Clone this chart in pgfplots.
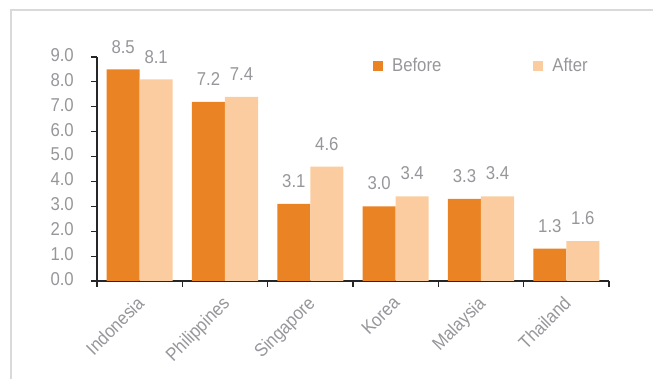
\documentclass[border=0pt]{standalone}
\usepackage{fontspec}
\setmainfont{Liberation Sans}[FakeStretch=0.9]
\usepackage{pgfplots}
\pgfplotsset{compat=1.18}
\definecolor{before}{RGB}{233,131,36}
\definecolor{after}{RGB}{251,204,160}
\definecolor{txt}{RGB}{150,150,155}
\definecolor{framec}{RGB}{217,217,217}
\newcommand{\lf}{\fontsize{18.6bp}{22bp}\selectfont}
\begin{document}
\begin{tikzpicture}
\useasboundingbox (0,0) rectangle (653bp,379bp);
\draw[framec, line width=1.5bp] (11bp,0) -- (11bp,369bp) -- (653bp,369bp);
\begin{axis}[
  at={(97bp,98bp)}, anchor=south west,
  width=512bp, height=224bp, scale only axis,
  xmin=-0.5, xmax=5.5, ymin=0, ymax=9,
  ybar=0pt, bar width=33bp,
  axis x line*=bottom, axis y line*=left,
  axis line style={black!85, line width=1.2bp},
  tick align=outside,
  major tick length=6bp, minor tick length=6bp,
  every tick/.style={black!85, line width=1.2bp},
  xtick={0,...,5},
  xticklabels={Indonesia,Philippines,Singapore,Korea,Malaysia,Thailand},
  major x tick style={draw=none},
  minor xtick={-0.5,0.5,...,5.5},
  ytick={0,1,...,9},
  yticklabel style={/pgf/number format/fixed, /pgf/number format/zerofill, /pgf/number format/precision=1, /pgf/number format/assume math mode=true},
  tick label style={font=\lf, text=txt},
  xticklabel style={yshift=-8bp, xshift=-4bp, rotate=45, anchor=north east, inner sep=0pt},
  yticklabel style={anchor=east, inner sep=0pt, xshift=-17bp, yshift=2bp},
  nodes near coords,
  every node near coord/.append style={font=\lf, text=txt, inner sep=0pt, yshift=16bp,
    /pgf/number format/fixed, /pgf/number format/zerofill, /pgf/number format/precision=1, /pgf/number format/assume math mode=true},
  legend style={at={(axis description cs:0.533,0.962)}, anchor=west, draw=none, fill=none,
    font=\lf, text=txt, nodes={inner sep=0pt},
    /tikz/every odd column/.append style={column sep=9bp},
    /tikz/every even column/.append style={column sep=92bp}},
  legend columns=2,
  legend image code/.code={\fill[#1, draw=none] (0bp,-5bp) rectangle (10bp,5bp);},
]
\addplot[fill=before, draw=none] coordinates {(0,8.5) (1,7.2) (2,3.1) (3,3.0) (4,3.3) (5,1.3)};
\addplot[fill=after, draw=none] coordinates {(0,8.1) (1,7.4) (2,4.6) (3,3.4) (4,3.4) (5,1.6)};
\legend{Before,After}
\end{axis}
\end{tikzpicture}
\end{document}
